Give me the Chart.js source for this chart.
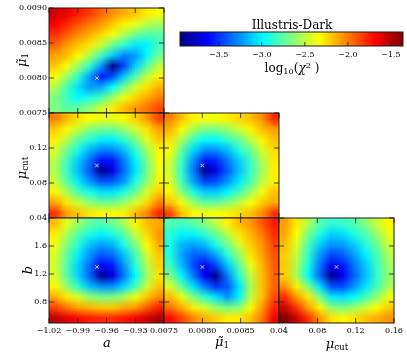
<!DOCTYPE html>
<html><head><meta charset="utf-8">
<script src="https://cdn.jsdelivr.net/npm/chart.js@4.4.1/dist/chart.umd.min.js"></script>
<style>
html,body{margin:0;padding:0;background:#fff}
#wrap{position:relative;width:407px;height:352px;overflow:hidden;font-family:'DejaVu Serif',serif;color:#000}
#wrap canvas{position:absolute;left:0;top:0}
.t{position:absolute;white-space:nowrap;line-height:1;transform:translate(-50%,-50%)}
.r{transform:translate(-50%,-50%) rotate(-90deg)}
.t sub{font-size:68%;vertical-align:-0.3em;line-height:0;font-style:normal}
.t sup{font-size:68%;vertical-align:0.55em;line-height:0}
.ax{font-size:13px}
</style></head><body><div id="wrap">
<canvas id="cA" width="407" height="352"></canvas>
<canvas id="cB" width="407" height="352"></canvas>
<canvas id="cC" width="407" height="352"></canvas>
<canvas id="cD" width="407" height="352"></canvas>
<canvas id="cE" width="407" height="352"></canvas>
<canvas id="cF" width="407" height="352"></canvas>
<canvas id="cbar" width="407" height="352"></canvas>
<div class="t" style="left:292px;top:25px;font-size:12px">Illustris-Dark</div>
<div class="t" style="left:292px;top:68px;font-size:12px">log<sub>10</sub>(<i>χ</i><sup>2</sup> )</div>
<div class="t ax" style="left:107px;top:342px"><i>a</i></div>
<div class="t ax" style="left:222px;top:341px"><i>μ̃</i><sub>1</sub></div>
<div class="t ax" style="left:337px;top:343px"><i>μ</i><sub>cut</sub></div>
<div class="t ax r" style="left:21px;top:60px"><i>μ̃</i><sub>1</sub></div>
<div class="t ax r" style="left:21px;top:168px"><i>μ</i><sub>cut</sub></div>
<div class="t ax r" style="left:27px;top:270px"><i>b</i></div>
</div>
<script>
// ---------------- data ----------------
const aRange = [-1.02, -0.90];
const mu1Range = [0.0075, 0.0090];
const mucutRange = [0.04, 0.16];
const bRange = [0.5, 2.0];
const aTicks = [-1.02, -0.99, -0.96, -0.93, -0.90];
const mu1Ticks = [0.0075, 0.0080, 0.0085, 0.0090];
const mucutTicks = [0.04, 0.08, 0.12, 0.16];
const bTicks = [0.8, 1.2, 1.6, 2.0];
const cbarRange = [-3.95, -1.36];
const cbarTicks = [-3.5, -3.0, -2.5, -2.0, -1.5];
const trueA = -0.97, trueMu1 = 0.0080, trueMucut = 0.10, trueB = 1.3;

// log10(chi^2) grids, rows from top (max y) to bottom (min y), columns from min x to max x
const chiA = [
 [-1.56,-1.64,-1.74,-1.83,-1.94,-2.05,-2.12,-2.19,-2.29,-2.34],
 [-1.67,-1.77,-1.88,-1.99,-2.07,-2.20,-2.30,-2.39,-2.51,-2.56],
 [-1.80,-1.91,-2.04,-2.13,-2.24,-2.37,-2.55,-2.70,-2.79,-2.76],
 [-1.94,-2.07,-2.18,-2.27,-2.47,-2.70,-2.87,-3.03,-3.00,-2.81],
 [-2.10,-2.17,-2.32,-2.55,-2.82,-3.11,-3.30,-3.23,-2.99,-2.70],
 [-2.19,-2.35,-2.59,-2.86,-3.23,-3.92,-3.46,-3.09,-2.76,-2.48],
 [-2.34,-2.58,-2.86,-3.22,-3.56,-3.42,-3.09,-2.76,-2.48,-2.30],
 [-2.53,-2.79,-3.05,-3.24,-3.20,-2.97,-2.69,-2.44,-2.27,-2.14],
 [-2.66,-2.84,-2.98,-2.91,-2.80,-2.58,-2.37,-2.23,-2.11,-2.01],
 [-2.65,-2.74,-2.72,-2.61,-2.45,-2.28,-2.16,-2.06,-1.98,-1.86]
];
const chiB = [
 [-2.00,-2.15,-2.26,-2.33,-2.38,-2.38,-2.31,-2.22,-2.07,-1.85],
 [-2.20,-2.31,-2.48,-2.62,-2.69,-2.69,-2.59,-2.43,-2.26,-2.09],
 [-2.29,-2.52,-2.74,-2.88,-3.01,-3.01,-2.86,-2.67,-2.41,-2.19],
 [-2.42,-2.70,-2.92,-3.17,-3.29,-3.28,-3.14,-2.86,-2.57,-2.31],
 [-2.51,-2.81,-3.11,-3.35,-3.59,-3.57,-3.31,-3.01,-2.67,-2.34],
 [-2.53,-2.83,-3.14,-3.41,-3.92,-3.72,-3.35,-3.04,-2.70,-2.36],
 [-2.46,-2.75,-3.02,-3.24,-3.40,-3.39,-3.22,-2.90,-2.62,-2.30],
 [-2.31,-2.55,-2.78,-2.92,-3.05,-3.05,-2.90,-2.71,-2.44,-2.21],
 [-2.10,-2.27,-2.48,-2.61,-2.69,-2.69,-2.59,-2.43,-2.24,-2.00],
 [-1.80,-2.10,-2.19,-2.27,-2.32,-2.32,-2.30,-2.16,-2.02,-1.78]
];
const chiC = [
 [-2.01,-2.17,-2.31,-2.35,-2.35,-2.29,-2.24,-2.16,-2.05,-1.78],
 [-2.13,-2.32,-2.54,-2.66,-2.66,-2.58,-2.45,-2.30,-2.17,-2.08],
 [-2.25,-2.54,-2.82,-2.98,-2.98,-2.85,-2.71,-2.51,-2.30,-2.17],
 [-2.34,-2.73,-3.07,-3.26,-3.25,-3.14,-2.90,-2.70,-2.45,-2.25],
 [-2.43,-2.84,-3.25,-3.57,-3.54,-3.32,-3.10,-2.82,-2.54,-2.28],
 [-2.45,-2.87,-3.31,-3.92,-3.68,-3.39,-3.14,-2.84,-2.57,-2.30],
 [-2.40,-2.81,-3.20,-3.45,-3.42,-3.25,-3.03,-2.78,-2.51,-2.30],
 [-2.31,-2.62,-2.90,-3.11,-3.10,-2.99,-2.80,-2.59,-2.36,-2.18],
 [-2.16,-2.36,-2.60,-2.73,-2.72,-2.64,-2.51,-2.34,-2.20,-2.11],
 [-1.85,-2.18,-2.31,-2.36,-2.35,-2.30,-2.24,-2.16,-2.05,-1.80]
];
const chiD = [
 [-2.16,-2.40,-2.59,-2.73,-2.78,-2.71,-2.54,-2.31,-2.16,-2.10],
 [-2.29,-2.54,-2.77,-2.90,-3.00,-2.91,-2.75,-2.48,-2.24,-2.06],
 [-2.37,-2.65,-2.88,-3.13,-3.22,-3.17,-2.91,-2.65,-2.33,-2.11],
 [-2.42,-2.73,-3.02,-3.25,-3.41,-3.35,-3.13,-2.80,-2.44,-2.19],
 [-2.44,-2.77,-3.10,-3.36,-3.63,-3.56,-3.24,-2.87,-2.53,-2.22],
 [-2.42,-2.75,-3.09,-3.38,-3.92,-3.70,-3.32,-2.98,-2.58,-2.27],
 [-2.31,-2.60,-2.86,-3.13,-3.25,-3.25,-3.07,-2.79,-2.45,-2.18],
 [-2.12,-2.28,-2.43,-2.59,-2.68,-2.67,-2.56,-2.37,-2.18,-2.04],
 [-1.84,-1.98,-2.10,-2.14,-2.19,-2.19,-2.12,-2.06,-1.91,-1.75],
 [-1.52,-1.62,-1.70,-1.75,-1.78,-1.78,-1.74,-1.67,-1.57,-1.46]
];
const chiE = [
 [-2.77,-2.80,-2.75,-2.64,-2.48,-2.30,-2.16,-2.07,-1.90,-1.74],
 [-2.87,-3.00,-3.00,-2.86,-2.71,-2.50,-2.27,-2.14,-1.99,-1.80],
 [-2.92,-3.16,-3.22,-3.14,-2.91,-2.70,-2.43,-2.21,-2.07,-1.85],
 [-2.89,-3.21,-3.38,-3.38,-3.20,-2.88,-2.59,-2.28,-2.09,-1.89],
 [-2.81,-3.14,-3.43,-3.65,-3.45,-3.13,-2.76,-2.39,-2.15,-1.92],
 [-2.64,-3.00,-3.30,-3.66,-3.92,-3.30,-2.88,-2.49,-2.16,-1.94],
 [-2.41,-2.73,-3.04,-3.31,-3.49,-3.40,-3.05,-2.55,-2.18,-1.93],
 [-2.16,-2.38,-2.65,-2.87,-3.05,-3.25,-3.00,-2.49,-2.17,-1.87],
 [-1.96,-2.12,-2.29,-2.44,-2.59,-2.67,-2.62,-2.34,-2.07,-1.77],
 [-1.70,-1.86,-2.02,-2.13,-2.21,-2.29,-2.28,-2.18,-1.98,-1.65]
];
const chiF = [
 [-2.09,-2.28,-2.53,-2.77,-2.86,-2.84,-2.78,-2.63,-2.46,-2.31],
 [-2.11,-2.34,-2.67,-2.90,-3.09,-3.05,-2.91,-2.79,-2.59,-2.37],
 [-2.17,-2.42,-2.79,-3.10,-3.25,-3.23,-3.11,-2.89,-2.70,-2.46],
 [-2.21,-2.49,-2.86,-3.23,-3.45,-3.39,-3.23,-3.02,-2.79,-2.53],
 [-2.20,-2.54,-2.91,-3.33,-3.66,-3.57,-3.33,-3.11,-2.83,-2.58],
 [-2.21,-2.55,-2.98,-3.36,-3.92,-3.66,-3.38,-3.14,-2.85,-2.60],
 [-2.05,-2.30,-2.65,-3.05,-3.42,-3.43,-3.25,-3.05,-2.80,-2.55],
 [-1.80,-2.08,-2.28,-2.66,-3.02,-3.06,-2.98,-2.80,-2.60,-2.38],
 [-1.56,-1.81,-2.08,-2.31,-2.61,-2.66,-2.58,-2.46,-2.32,-2.20],
 [-1.35,-1.56,-1.80,-2.06,-2.26,-2.31,-2.26,-2.18,-2.12,-2.05]
];

// ---------------- drawing ----------------
const W = 407, H = 352;
const cols = [[49,164],[164,279],[279,394]];
const rows = [[8,113],[113,218],[218,323]];
const FONT = {family:'DejaVu Serif', size:8};

function jet(v){
  let t = (v - cbarRange[0]) / (cbarRange[1] - cbarRange[0]);
  t = Math.max(0, Math.min(1, t));
  const c = x => Math.round(255 * Math.max(0, Math.min(1, x)));
  return [c(1.5 - Math.abs(4*t - 3)), c(1.5 - Math.abs(4*t - 2)), c(1.5 - Math.abs(4*t - 1))];
}
const fmt = (v, d) => (v < -1e-12 ? '\u2212' : '') + Math.abs(v).toFixed(d);

const params = {
  a:{range:aRange, ticks:aTicks, dec:2, truth:trueA},
  mu1:{range:mu1Range, ticks:mu1Ticks, dec:4, truth:trueMu1},
  mucut:{range:mucutRange, ticks:mucutTicks, dec:2, truth:trueMucut},
  b:{range:bRange, ticks:bTicks, dec:1, truth:trueB}
};
const hideX = {0:[-0.90], 1:[0.0090], 2:[]};
const hideY = {0:[], 1:[0.16], 2:[2.0]};

const panels = [
  {canvas:'cA', xp:'a', yp:'mu1', z:chiA, col:0, row:0},
  {canvas:'cB', xp:'a', yp:'mucut', z:chiB, col:0, row:1},
  {canvas:'cC', xp:'mu1', yp:'mucut', z:chiC, col:1, row:1},
  {canvas:'cD', xp:'a', yp:'b', z:chiD, col:0, row:2},
  {canvas:'cE', xp:'mu1', yp:'b', z:chiE, col:1, row:2},
  {canvas:'cF', xp:'mucut', yp:'b', z:chiF, col:2, row:2}
];

function makeHeat(z, xr, yr){
  return {
    id:'heat',
    beforeDatasetsDraw(chart){
      const xs = chart.scales.x, ys = chart.scales.y, ctx = chart.ctx;
      const ny = z.length, nx = z[0].length;
      const off = document.createElement('canvas'); off.width = nx; off.height = ny;
      const oc = off.getContext('2d'); const img = oc.createImageData(nx, ny);
      for (let j = 0; j < ny; j++) for (let i = 0; i < nx; i++) {
        const c = jet(z[j][i]); const k = 4*(j*nx + i);
        img.data[k] = c[0]; img.data[k+1] = c[1]; img.data[k+2] = c[2]; img.data[k+3] = 255;
      }
      oc.putImageData(img, 0, 0);
      const x0 = xs.getPixelForValue(xr[0]), x1 = xs.getPixelForValue(xr[1]);
      const y0 = ys.getPixelForValue(yr[1]), y1 = ys.getPixelForValue(yr[0]);
      ctx.save();
      ctx.imageSmoothingEnabled = true; ctx.imageSmoothingQuality = 'low';
      ctx.drawImage(off, x0, y0, x1 - x0, y1 - y0);
      ctx.restore();
    }
  };
}
function makeFrame(xt, yt, xr, yr){
  return {
    id:'frame',
    afterDatasetsDraw(chart){
      const xs = chart.scales.x, ys = chart.scales.y, ctx = chart.ctx;
      const L = xs.getPixelForValue(xr[0]), R = xs.getPixelForValue(xr[1]);
      const T = ys.getPixelForValue(yr[1]), B = ys.getPixelForValue(yr[0]);
      ctx.save();
      ctx.strokeStyle = 'rgba(40,40,40,0.9)'; ctx.lineWidth = 1;
      ctx.beginPath();
      xt.forEach(v => { const p = xs.getPixelForValue(v);
        ctx.moveTo(p, B); ctx.lineTo(p, B - 5); ctx.moveTo(p, T); ctx.lineTo(p, T + 5); });
      yt.forEach(v => { const p = ys.getPixelForValue(v);
        ctx.moveTo(L, p); ctx.lineTo(L + 5, p); ctx.moveTo(R, p); ctx.lineTo(R - 5, p); });
      ctx.stroke();
      ctx.strokeStyle = 'rgba(30,30,30,0.85)'; ctx.lineWidth = 1.2;
      ctx.strokeRect(L, T, R - L, B - T);
      ctx.restore();
    }
  };
}

const XH = 16, YW = 45;
panels.forEach(P => {
  const X = params[P.xp], Y = params[P.yp];
  const [cl, cr] = cols[P.col], [rt, rb] = rows[P.row];
  const showX = P.row === 2, showY = P.col === 0;
  new Chart(document.getElementById(P.canvas), {
    type:'scatter',
    data:{datasets:[{data:[{x:X.truth, y:Y.truth}], pointStyle:'crossRot', pointRadius:2.5,
      pointHoverRadius:2.5, borderColor:'#d6d6fb', backgroundColor:'rgba(0,0,0,0)', borderWidth:1}]},
    options:{
      responsive:false, animation:false, devicePixelRatio:1, events:[],
      layout:{padding:{left: showY ? cl - YW : cl, right: W - cr, top: rt, bottom: showX ? H - rb - XH : H - rb}},
      plugins:{legend:{display:false}, tooltip:{enabled:false}},
      scales:{
        x:{type:'linear', min:X.range[0], max:X.range[1], display:showX,
          grid:{display:false, drawTicks:false}, border:{display:false},
          afterBuildTicks:s => { s.ticks = X.ticks.map(v => ({value:v})); },
          afterFit:s => { if (showX) s.height = XH; },
          ticks:{autoSkip:false, maxRotation:0, minRotation:0, padding:3, color:'#000', font:FONT,
            callback:v => hideX[P.col].some(h => Math.abs(h - v) < 1e-9) ? '' : fmt(v, X.dec)}},
        y:{type:'linear', min:Y.range[0], max:Y.range[1], display:showY,
          grid:{display:false, drawTicks:false}, border:{display:false},
          afterBuildTicks:s => { s.ticks = Y.ticks.map(v => ({value:v})); },
          afterFit:s => { if (showY) s.width = YW; },
          ticks:{autoSkip:false, padding:2, color:'#000', font:FONT,
            callback:v => hideY[P.row].some(h => Math.abs(h - v) < 1e-9) ? '' : fmt(v, Y.dec)}}
      }
    },
    plugins:[makeHeat(P.z, X.range, Y.range), makeFrame(X.ticks, Y.ticks, X.range, Y.range)]
  });
});

// colour bar
const cbarPlugin = {
  id:'cbar',
  beforeDatasetsDraw(chart){
    const xs = chart.scales.x, ca = chart.chartArea, ctx = chart.ctx;
    const x0 = xs.getPixelForValue(cbarRange[0]), x1 = xs.getPixelForValue(cbarRange[1]);
    const g = ctx.createLinearGradient(x0, 0, x1, 0);
    for (let k = 0; k <= 64; k++) {
      const c = jet(cbarRange[0] + (cbarRange[1] - cbarRange[0]) * k / 64);
      g.addColorStop(k / 64, `rgb(${c[0]},${c[1]},${c[2]})`);
    }
    ctx.save();
    ctx.fillStyle = g; ctx.fillRect(x0, ca.top, x1 - x0, ca.bottom - ca.top);
    ctx.strokeStyle = 'rgba(40,40,40,0.9)'; ctx.lineWidth = 1;
    ctx.beginPath();
    cbarTicks.forEach(v => { const p = xs.getPixelForValue(v); ctx.moveTo(p, ca.bottom); ctx.lineTo(p, ca.bottom - 4); });
    ctx.stroke();
    ctx.strokeStyle = 'rgba(30,30,30,0.85)'; ctx.lineWidth = 1.2;
    ctx.strokeRect(x0, ca.top, x1 - x0, ca.bottom - ca.top);
    ctx.restore();
  }
};
new Chart(document.getElementById('cbar'), {
  type:'scatter', data:{datasets:[]},
  options:{
    responsive:false, animation:false, devicePixelRatio:1, events:[],
    layout:{padding:{left:180, right:W - 403, top:32, bottom:H - 46 - 14}},
    plugins:{legend:{display:false}, tooltip:{enabled:false}},
    scales:{
      x:{type:'linear', min:cbarRange[0], max:cbarRange[1], grid:{display:false, drawTicks:false}, border:{display:false},
        afterBuildTicks:s => { s.ticks = cbarTicks.map(v => ({value:v})); },
        afterFit:s => { s.height = 14; },
        ticks:{autoSkip:false, maxRotation:0, padding:4, color:'#000', font:FONT, callback:v => fmt(v, 1)}},
      y:{display:false, min:0, max:1}
    }
  },
  plugins:[cbarPlugin]
});
</script>
</body></html>
